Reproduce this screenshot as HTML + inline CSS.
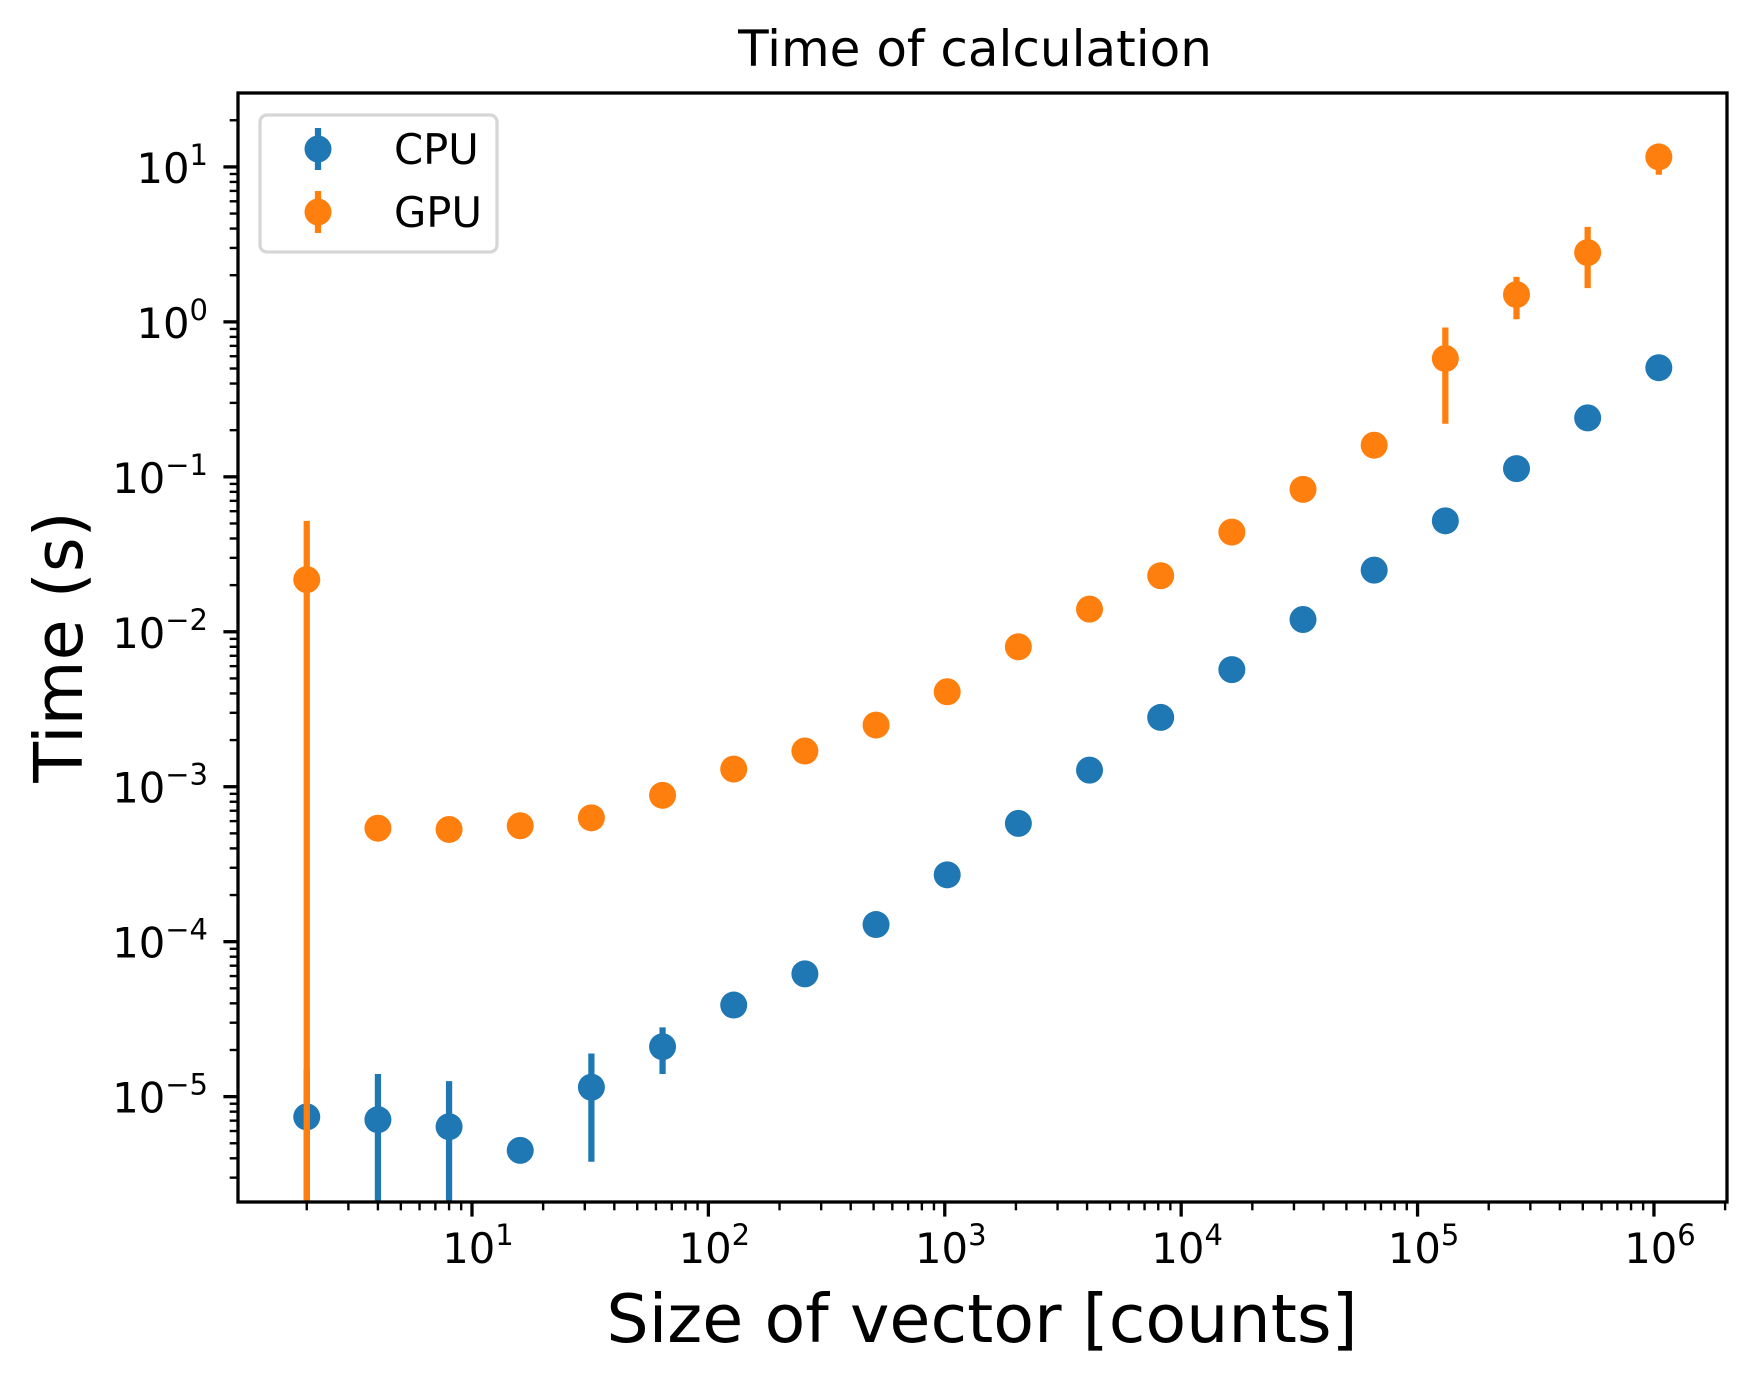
<!DOCTYPE html>
<html><head><meta charset="utf-8">
<style>
html,body{margin:0;padding:0;background:#fff;}
svg{display:block;font-family:"DejaVu Sans","Liberation Sans",sans-serif;}
</style></head>
<body>
<svg id="chart" width="1756" height="1386" viewBox="0 0 1756 1386"></svg>
<script>
// ---- data ----
const xExp = [1,2,3,4,5,6,7,8,9,10,11,12,13,14,15,16,17,18,19,20]; // x = 2^k
const cpuVals = [7.4e-6,7.1e-6,6.4e-6,4.5e-6,1.15e-5,2.1e-5,3.9e-5,6.2e-5,1.29e-4,2.7e-4,5.8e-4,1.28e-3,2.8e-3,5.7e-3,1.2e-2,2.5e-2,5.2e-2,0.113,0.24,0.506];
const cpuLow  = [1e-9,1e-9,1e-9,4.4e-6,3.8e-6,1.4e-5,3.9e-5,6.2e-5,1.29e-4,2.7e-4,5.8e-4,1.28e-3,2.8e-3,5.7e-3,1.2e-2,2.5e-2,5.2e-2,0.113,0.24,0.506];
const cpuHigh = [1.5e-5,1.4e-5,1.26e-5,4.6e-6,1.9e-5,2.8e-5,3.9e-5,6.2e-5,1.29e-4,2.7e-4,5.8e-4,1.28e-3,2.8e-3,5.7e-3,1.2e-2,2.5e-2,5.2e-2,0.113,0.24,0.506];
const gpuVals = [0.0217,5.4e-4,5.3e-4,5.6e-4,6.3e-4,8.8e-4,1.3e-3,1.7e-3,2.5e-3,4.1e-3,8.0e-3,1.4e-2,2.3e-2,4.4e-2,8.3e-2,0.16,0.58,1.5,2.8,11.6];
const gpuLow  = [1e-9,5.4e-4,5.3e-4,5.6e-4,6.3e-4,8.8e-4,1.3e-3,1.7e-3,2.5e-3,4.1e-3,8.0e-3,1.4e-2,2.3e-2,4.4e-2,8.3e-2,0.16,0.22,1.04,1.65,8.9];
const gpuHigh = [0.052,5.4e-4,5.3e-4,5.6e-4,6.3e-4,8.8e-4,1.3e-3,1.7e-3,2.5e-3,4.1e-3,8.0e-3,1.4e-2,2.3e-2,4.4e-2,8.3e-2,0.16,0.92,1.95,4.1,13.7];
const xTickExp = [1,2,3,4,5,6];
const yTickExp = [1,0,-1,-2,-3,-4,-5];
const yTickLabels = ["1","0","\u22121","\u22122","\u22123","\u22124","\u22125"];

// ---- layout ----
const L=238,R=1727,T=93,B=1202;
const xMin=0.0102,xMax=6.309,yMin=-5.68,yMax=1.477;
const sx=lg=>L+(lg-xMin)/(xMax-xMin)*(R-L);
const sy=lg=>B-(lg-yMin)/(yMax-yMin)*(B-T);
const NS="http://www.w3.org/2000/svg";
const svg=document.getElementById('chart');
function mk(tag,attrs,parent){const e=document.createElementNS(NS,tag);for(const k in attrs)e.setAttribute(k,attrs[k]);(parent||svg).appendChild(e);return e;}
const clamp=v=>Math.max(T,Math.min(B,v));
const MR=13.5;

const defs=mk('defs',{});
const cp=mk('clipPath',{id:'clip'},defs);
mk('rect',{x:L,y:T,width:R-L,height:B-T},cp);

const xt=mk('g',{});


for(let d=0;d<=6;d++){for(let m=1;m<10;m++){const lg=d+Math.log10(m);if(lg<xMin||lg>xMax)continue;const x=sx(lg);const len=m===1?14.6:8.3;mk('line',{x1:x,y1:B,x2:x,y2:B+len,stroke:'#000','stroke-width':m===1?3.3:2.4},xt);}}
xTickExp.forEach(e=>{const t=mk('text',{x:sx(e)+6,y:1263,'font-size':41.7,'text-anchor':'middle',fill:'#000'},xt);


t.innerHTML='10<tspan dy="-18" font-size="29">'+e+'</tspan>';});

const yt=mk('g',{});


for(let d=-6;d<=1;d++){for(let m=1;m<10;m++){const lg=d+Math.log10(m);if(lg<yMin||lg>yMax)continue;const y=sy(lg);const len=m===1?14.6:8.3;mk('line',{x1:L,y1:y,x2:L-len,y2:y,stroke:'#000','stroke-width':m===1?3.3:2.4},yt);}}
yTickExp.forEach((e,i)=>{const t=mk('text',{x:208,y:sy(e)+16,'font-size':41.7,'text-anchor':'end',fill:'#000'},yt);


t.innerHTML='10<tspan dy="-18" font-size="29">'+yTickLabels[i]+'</tspan>';});

function series(vals,lo,hi,color,name){
  const g=mk('g',{'clip-path':'url(#clip)'});
  
  
  xExp.forEach((k,i)=>{const x=sx(k*Math.log10(2));
    const y1=clamp(sy(Math.log10(lo[i]))),y2=clamp(sy(Math.log10(hi[i])));
    if(Math.abs(y1-y2)>1){const l=mk('line',{x1:x,x2:x,y1:y1,y2:y2,stroke:color,'stroke-width':6.25},g);
      
      }
  });
  xExp.forEach((k,i)=>{const x=sx(k*Math.log10(2));
    const c=mk('circle',{cx:x,cy:sy(Math.log10(vals[i])),r:MR,fill:color},g);
    
    
  });
}
series(cpuVals,cpuLow,cpuHigh,'#1f77b4','cpu');
series(gpuVals,gpuLow,gpuHigh,'#ff7f0e','gpu');

const fr=mk('rect',{x:L,y:T,width:R-L,height:B-T,fill:'none',stroke:'#000','stroke-width':3.3});



const lgd=mk('g',{});


mk('rect',{x:260,y:115,width:237,height:137,rx:7,fill:'#fff','fill-opacity':0.8,stroke:'#d6d6d6','stroke-width':3.3},lgd);
[['CPU','#1f77b4',149],['GPU','#ff7f0e',212]].forEach(([lab,col,y])=>{
  const e=mk('g',{},lgd);
  
  
  mk('line',{x1:318,x2:318,y1:y-21,y2:y+21,stroke:col,'stroke-width':6.25},e);
  mk('circle',{cx:318,cy:y,r:MR,fill:col},e);
  const t=mk('text',{x:394,y:y+15,'font-size':41.7,fill:'#000'},e);t.textContent=lab;
});

const ti=mk('text',{x:975,y:66,'font-size':50,'text-anchor':'middle',fill:'#000'});
ti.textContent='Time of calculation';


const xl=mk('text',{x:982,y:1342,'font-size':66.7,'text-anchor':'middle',fill:'#000'});
xl.textContent='Size of vector [counts]';


const yl=mk('text',{x:82,y:647,'font-size':66.7,'text-anchor':'middle',fill:'#000',transform:'rotate(-90 82 647)'});
yl.textContent='Time (s)';


</script>
</body></html>
